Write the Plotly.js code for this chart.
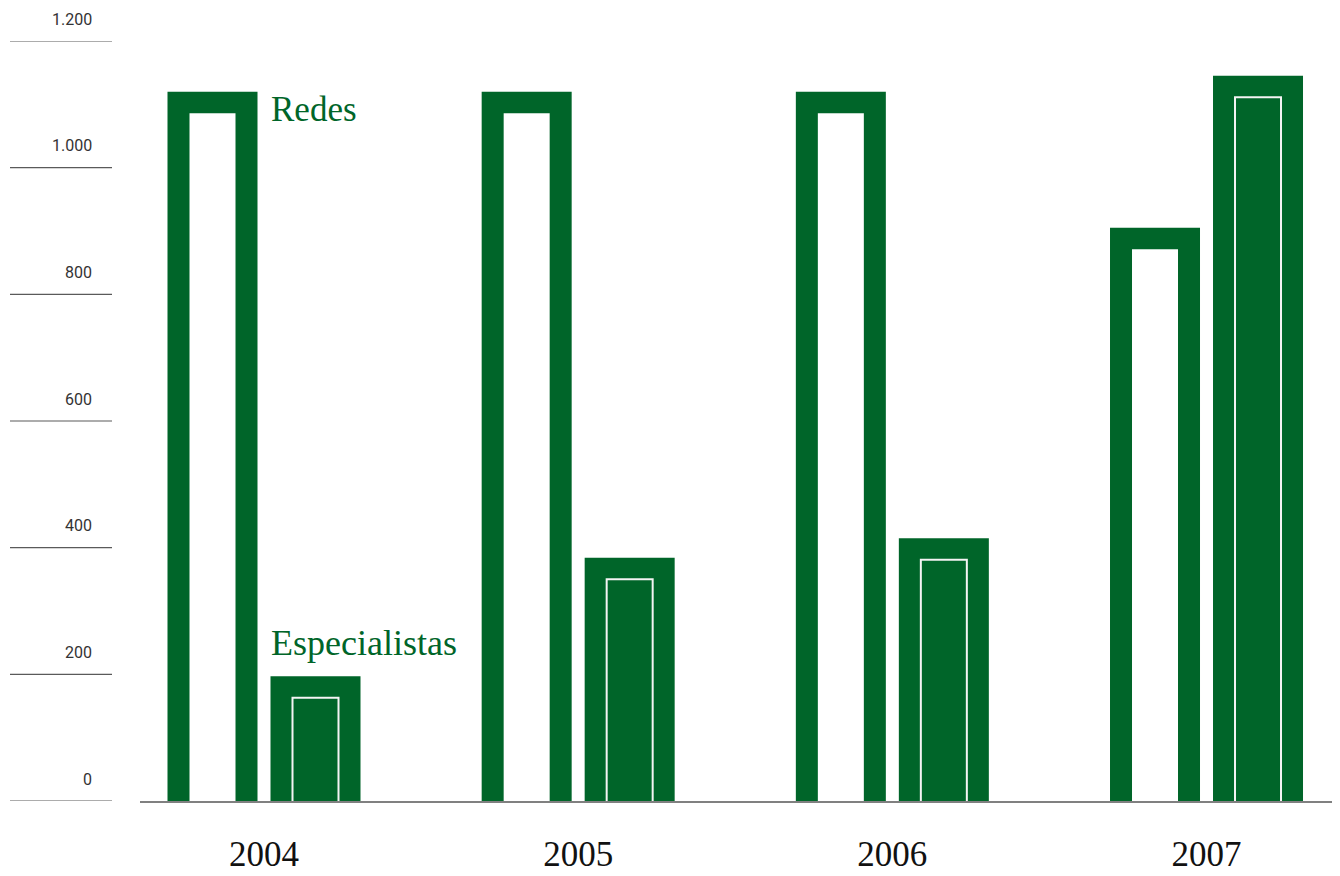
<!DOCTYPE html>
<html>
<head>
<meta charset="utf-8">
<script src="https://cdn.plot.ly/plotly-3.0.1.min.js"></script>
<style>
  html, body { margin: 0; padding: 0; background: #ffffff; }
  #chart { width: 1340px; height: 876px; }
</style>
</head>
<body>
<div id="chart"></div>
<script>
// ---- data ----
const years = [2004, 2005, 2006, 2007];
const yearLabels = ['2004', '2005', '2006', '2007'];
const redes = [1120, 1120, 1120, 905];
const especialistas = [197, 384, 415, 1145];
const seriesNames = ['Redes', 'Especialistas'];
const yTickVals = [0, 200, 400, 600, 800, 1000, 1200];
const yTickText = ['0', '200', '400', '600', '800', '1.000', '1.200'];

// ---- styling / geometry ----
const GREEN = '#006529';
const W = 1340, H = 876;
const M = { l: 140, r: 8, t: 41, b: 75 };
const plotW = W - M.l - M.r, plotH = H - M.t - M.b;
const Y_MAX = 1200;
const pxPerX = 314.17;                 // px per year
const xLeft = years[0] - 124 / pxPerX;
const xRange = [xLeft, xLeft + plotW / pxPerX];
const pxPerY = plotH / Y_MAX;

const barPx = 90, innerPx = 46, halfGap = 51.5, borderPx = 21.5;
const bw = barPx / pxPerX, iw = innerPx / pxPerX;
const offR = -(halfGap + barPx / 2) / pxPerX;
const offRi = -(halfGap + innerPx / 2) / pxPerX;
const offE = (halfGap - barPx / 2) / pxPerX;
const offEi = (halfGap - innerPx / 2) / pxPerX;
const borderY = borderPx / pxPerY;

const traces = [
  { type: 'bar', name: seriesNames[0], x: years, y: redes, width: bw, offset: offR,
    marker: { color: GREEN, line: { width: 0 } }, hoverinfo: 'x+y' },
  { type: 'bar', name: seriesNames[0] + ' (in)', x: years, y: redes, base: -borderY, width: iw, offset: offRi,
    marker: { color: '#ffffff', line: { width: 0 } }, hoverinfo: 'skip' },
  { type: 'bar', name: seriesNames[1], x: years, y: especialistas, width: bw, offset: offE,
    marker: { color: GREEN, line: { width: 0 } }, hoverinfo: 'x+y' },
  { type: 'bar', name: seriesNames[1] + ' (in)', x: years, y: especialistas, base: -borderY, width: iw, offset: offEi,
    marker: { color: GREEN, line: { width: 2, color: '#f4f4f4' } }, hoverinfo: 'skip' }
];

// y "ticks": short lines to the left of the plot, labels above them
const px2paperX = px => (px - M.l) / plotW;
const shapes = yTickVals.map(v => ({
  type: 'line', xref: 'paper', yref: 'y',
  x0: px2paperX(10), x1: px2paperX(112), y0: v, y1: v,
  line: { color: '#5a5a5a', width: 1.2 }
}));
const annotations = yTickVals.map((v, i) => ({
  xref: 'paper', yref: 'y', x: px2paperX(94), y: v,
  xanchor: 'right', yanchor: 'middle', yshift: 22,
  text: yTickText[i], showarrow: false,
  font: { family: 'Roboto, sans-serif', size: 16, color: '#333333' }
}));
annotations.push({
  xref: 'x', yref: 'y', x: years[0] + offE, y: redes[0],
  xanchor: 'left', yanchor: 'middle', yshift: -18, xshift: -2,
  text: seriesNames[0], showarrow: false,
  font: { family: '"Liberation Serif", serif', size: 35, color: GREEN }
});
annotations.push({
  xref: 'x', yref: 'y', x: years[0] + offE, y: especialistas[0],
  xanchor: 'left', yanchor: 'middle', yshift: 33, xshift: -2,
  text: seriesNames[1], showarrow: false,
  font: { family: '"Liberation Serif", serif', size: 36, color: GREEN }
});

const layout = {
  width: W, height: H,
  margin: M,
  paper_bgcolor: '#ffffff', plot_bgcolor: '#ffffff',
  showlegend: false,
  barmode: 'overlay',
  xaxis: {
    range: xRange, tickmode: 'array', tickvals: years, ticktext: yearLabels,
    showgrid: false, zeroline: false, showline: true, linecolor: '#808080', linewidth: 1.5,
    ticks: '', ticklabelstandoff: 21,
    tickfont: { family: '"Liberation Serif", serif', size: 35, color: '#111111' },
    fixedrange: true
  },
  yaxis: {
    range: [0, Y_MAX], showgrid: false, zeroline: false, showline: false,
    showticklabels: false, ticks: '', fixedrange: true
  },
  shapes: shapes,
  annotations: annotations
};

Plotly.newPlot('chart', traces, layout, { displayModeBar: false, staticPlot: true });
</script>
</body>
</html>
